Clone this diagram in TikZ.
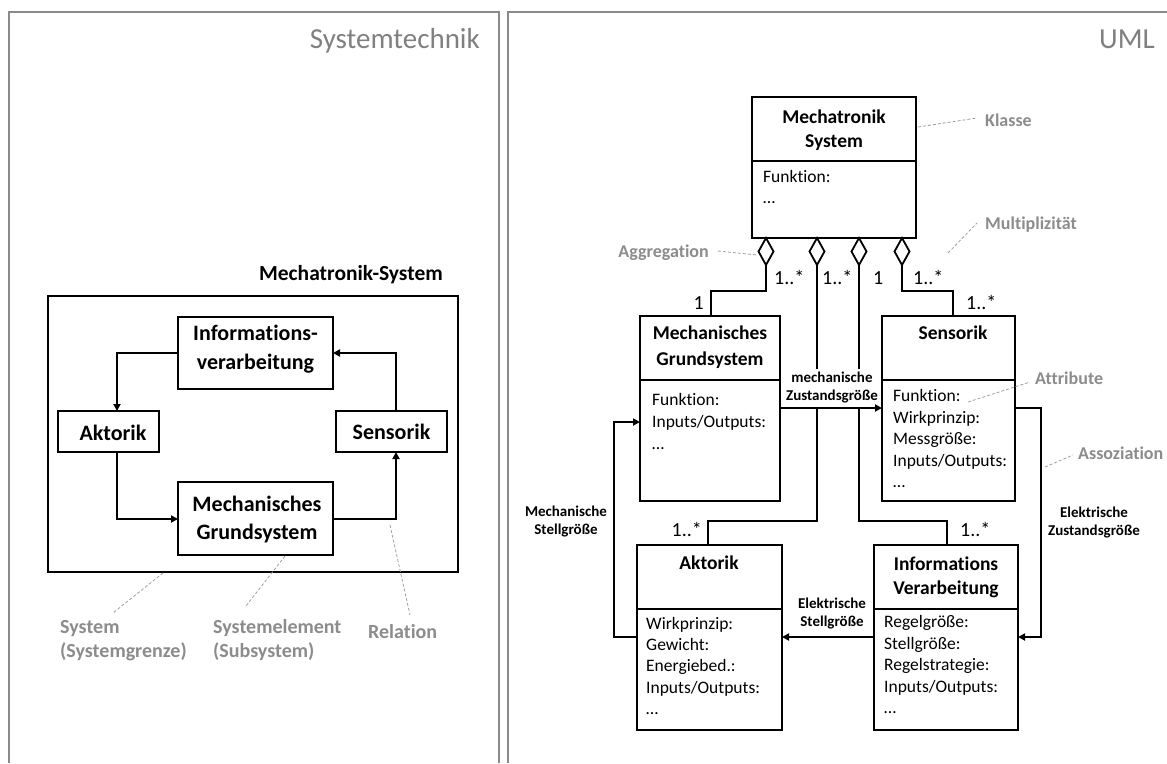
\documentclass[tikz,border=0pt]{standalone}
\usepackage{fontspec}
\setmainfont{Carlito}[Ligatures=NoCommon]
\usetikzlibrary{shapes.geometric,arrows.meta}
\definecolor{panelgray}{HTML}{8A8A8A}
\definecolor{textgray}{HTML}{808080}
\definecolor{annogray}{HTML}{8C8C8C}
\definecolor{linegray}{HTML}{A0A0A0}
\begin{document}
\begin{tikzpicture}[x=1pt,y=-1pt,
  panel/.style={draw=panelgray, line width=2.5pt},
  head/.style={font=\fontsize{29}{30}\selectfont, text=textgray, inner sep=0pt},
  lbox/.style={draw, line width=2.2pt, inner sep=0pt, outer sep=0pt, anchor=north west},
  ltxt/.style={font=\bfseries\fontsize{22}{26}\selectfont, inner sep=0pt, anchor=base},
  cls/.style={draw, line width=2.8pt, inner sep=0pt, outer sep=0pt, anchor=north west},
  ctitle/.style={font=\bfseries\fontsize{19.5}{22}\selectfont, inner sep=0pt, anchor=base},
  attr/.style={font=\fontsize{17.5}{20}\selectfont, inner sep=0pt, anchor=base west},
  mult/.style={font=\fontsize{20}{22}\selectfont, inner sep=0pt},
  small/.style={font=\bfseries\fontsize{15}{18}\selectfont, align=center, inner sep=0pt},
  wsmall/.style={small, fill=white, inner xsep=1pt, inner ysep=3pt},
  note/.style={font=\bfseries\fontsize{18}{22}\selectfont, text=annogray, inner sep=0pt, anchor=base west},
  lnote/.style={font=\bfseries\fontsize{20}{24}\selectfont, text=annogray, inner sep=0pt, anchor=base west},
  anno/.style={draw=linegray, line width=0.8pt, dash pattern=on 3pt off 2pt},
  conn/.style={line width=1.8pt},
  arr/.style={line width=1.8pt, -{Triangle[length=7pt,width=7pt]}},
  dia/.style={diamond, draw, fill=white, line width=1.8pt, minimum width=15pt, minimum height=27pt, inner sep=0pt, outer sep=0pt}
]
\useasboundingbox (0,0) rectangle (1167,763);
\fill[white] (0,0) rectangle (1167,763);

% panels
\draw[panel] (9,763) -- (9,12) -- (499,12) -- (499,763);
\draw[panel] (508,763) -- (508,12) -- (1167,12);
\node[head, anchor=base east] (h1) at (480,48) {Systemtechnik};
\node[head, anchor=base east] (h2) at (1155,48) {UML};

% ===== left panel =====
\node[font=\bfseries\fontsize{21.5}{24}\selectfont, inner sep=0pt, anchor=base east] (systitle) at (443,280) {Mechatronik-System};
\node[lbox, minimum width=410pt, minimum height=276pt] (outer) at (48,296) {};
\node[lbox, minimum width=155pt, minimum height=72pt] (linfo) at (178,317) {};
\node[lbox, minimum width=101pt, minimum height=41pt] (lakt) at (58,411) {};
\node[lbox, minimum width=111pt, minimum height=41pt] (lsens) at (336,411) {};
\node[lbox, minimum width=155pt, minimum height=73pt] (lmech) at (178,482) {};
\node[ltxt] (linfo1) at (255.5,340) {Informations-};
\node[ltxt] (linfo2) at (255.5,369) {verarbeitung};
\node[ltxt] (lakt1) at (113,440) {Aktorik};
\node[ltxt] (lsens1) at (391.5,439) {Sensorik};
\node[ltxt] (lmech1) at (257,511) {Mechanisches};
\node[ltxt] (lmech2) at (257,539) {Grundsystem};

\coordinate (l1) at (117,353);
\coordinate (l2) at (117,519);
\coordinate (l3) at (396,519);
\coordinate (l4) at (396,353);
\draw[arr] (linfo.west |- l1) -- (l1) -- (l1 |- lakt.north);
\draw[arr] (lakt.south -| l2) -- (l2) -- (l2 -| lmech.west);
\draw[arr] (lmech.east |- l3) -- (l3) -- (l3 |- lsens.south);
\draw[arr] (lsens.north -| l4) -- (l4) -- (l4 -| linfo.east);

% left annotations
\node[lnote] (n1a) at (60,633.5) {System};
\node[lnote] (n1b) at (60,657.5) {(Systemgrenze)};
\node[lnote] (n2a) at (213,633.5) {Systemelement};
\node[lnote] (n2b) at (213,657.5) {(Subsystem)};
\node[lnote] (n3) at (368,638.5) {Relation};
\coordinate (a1s) at (163,573); \coordinate (a1e) at (113,613);
\coordinate (a2s) at (285,556); \coordinate (a2e) at (246,606);
\coordinate (a3s) at (390,525); \coordinate (a3e) at (410,615);
\draw[anno] (a1s) -- (a1e);
\draw[anno] (a2s) -- (a2e);
\draw[anno] (a3s) -- (a3e);

% ===== right panel: classes =====
\node[cls, minimum width=164pt, minimum height=141pt] (ms) at (752,97) {};
\node[cls, minimum width=140pt, minimum height=185pt] (mech) at (640,316) {};
\node[cls, minimum width=133pt, minimum height=185pt] (sens) at (882,316) {};
\node[cls, minimum width=145pt, minimum height=185pt] (akt) at (637,545) {};
\node[cls, minimum width=144pt, minimum height=185pt] (info) at (874,545) {};
\draw[line width=2.8pt] (ms.west |- 0,161) -- (ms.east |- 0,161);
\draw[line width=2.8pt] (mech.west |- 0,380) -- (mech.east |- 0,380);
\draw[line width=2.8pt] (sens.west |- 0,380) -- (sens.east |- 0,380);
\draw[line width=2.8pt] (akt.west |- 0,609) -- (akt.east |- 0,609);
\draw[line width=2.8pt] (info.west |- 0,609) -- (info.east |- 0,609);

% titles
\node[ctitle] (mst1) at (834,123.5) {Mechatronik};
\node[ctitle] (mst2) at (834,147.5) {System};
\node[ctitle] (mect1) at (710,339.5) {Mechanisches};
\node[ctitle] (mect2) at (710,365) {Grundsystem};
\node[ctitle] (sent1) at (953,339.5) {Sensorik};
\node[ctitle] (aktt1) at (709,569.5) {Aktorik};
\node[ctitle] (inft1) at (946,570.5) {Informations};
\node[ctitle] (inft2) at (946,594.5) {Verarbeitung};

% attributes
\foreach \t [count=\i] in {Funktion:,…}
  \node[attr] (msa\i) at (763,{182.5+(\i-1)*21}) {\t};
\foreach \t [count=\i] in {Funktion:,Inputs/Outputs:,…}
  \node[attr] (meca\i) at (652,{405.5+(\i-1)*22}) {\t};
\foreach \t [count=\i] in {Funktion:,Wirkprinzip:,Messgröße:,Inputs/Outputs:,…}
  \node[attr] (sena\i) at (893,{401.5+(\i-1)*21.6}) {\t};
\foreach \t [count=\i] in {Wirkprinzip:,Gewicht:,Energiebed.:,Inputs/Outputs:,…}
  \node[attr] (akta\i) at (646,{629.5+(\i-1)*21.2}) {\t};
\foreach \t [count=\i] in {Regelgröße:,Stellgröße:,Regelstrategie:,Inputs/Outputs:,…}
  \node[attr] (infa\i) at (884,{627.5+(\i-1)*21.5}) {\t};

% aggregation connectors
\coordinate (c1) at (711,291);
\coordinate (c2) at (708,521);
\coordinate (c3) at (947,521);
\coordinate (c4) at (953,291);
\node[dia] (d1) at (766,251.5) {};
\node[dia] (d2) at (817,251.5) {};
\node[dia] (d3) at (859,251.5) {};
\node[dia] (d4) at (902,251.5) {};
\draw[conn] (d1.south) |- (c1) -- (c1 |- mech.north);
\draw[conn] (d2.south) |- (c2) -- (c2 |- akt.north);
\draw[conn] (d3.south) |- (c3) -- (c3 |- info.north);
\draw[conn] (d4.south) |- (c4) -- (c4 |- sens.north);

% multiplicities
\node[mult, anchor=base west] (m1) at (774,284.5) {1..*};
\node[mult, anchor=base west] (m2) at (822,284.5) {1..*};
\node[mult, anchor=base west] (m3) at (873,284.5) {1};
\node[mult, anchor=base west] (m4) at (913,284.5) {1..*};
\node[mult, anchor=base east] (m5) at (704,309.5) {1};
\node[mult, anchor=base west] (m6) at (966,309.5) {1..*};
\node[mult, anchor=base east] (m7) at (702,536.5) {1..*};
\node[mult, anchor=base west] (m8) at (960,536.5) {1..*};

% association labels and arrows
\node[wsmall] (lab1) at (832,388) {mechanische\\Zustandsgröße};
\coordinate (y408) at (0,408);
\coordinate (e1) at (1041,408);
\coordinate (e2) at (1041,637);
\coordinate (s1) at (0,637);
\coordinate (k1) at (614,637);
\coordinate (k2) at (614,422);
\draw[arr] (mech.east |- y408) -- (sens.west |- y408);
\draw[arr] (sens.east |- e1) -- (e1) -- (e2) -- (e2 -| info.east);
\draw[arr] (info.west |- s1) -- (akt.east |- s1);
\draw[arr] (akt.west |- k1) -- (k1) -- (k2) -- (k2 -| mech.west);
\node[small] (lab2) at (1094,523) {Elektrische\\Zustandsgröße};
\node[small] (lab3) at (832,613) {Elektrische\\Stellgröße};
\node[small] (lab4) at (566,522) {Mechanische\\Stellgröße};

% right annotations
\node[note] (r1) at (985,126) {Klasse};
\node[note] (r2) at (985,229) {Multiplizität};
\node[note, anchor=base east] (r3) at (709,257) {Aggregation};
\node[note] (r4) at (1035,384) {Attribute};
\node[note] (r5) at (1078,459) {Assoziation};
\coordinate (b1s) at (918,127); \coordinate (b1e) at (977,118);
\coordinate (b2s) at (948,253); \coordinate (b2e) at (977,223);
\coordinate (b3s) at (718,251); \coordinate (b3e) at (757,255);
\coordinate (b4s) at (968,402); \coordinate (b4e) at (1030,382);
\coordinate (b5s) at (1045,467); \coordinate (b5e) at (1073,455);
\draw[anno] (b1s) -- (b1e);
\draw[anno] (b2s) -- (b2e);
\draw[anno] (b3s) -- (b3e);
\draw[anno] (b4s) -- (b4e);
\draw[anno] (b5s) -- (b5e);
\end{tikzpicture}
\end{document}
